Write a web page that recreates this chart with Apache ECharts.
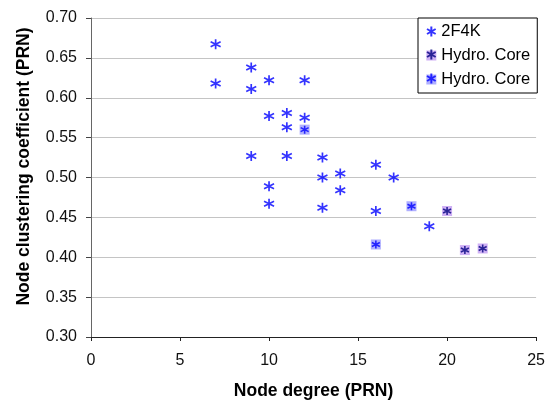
<!DOCTYPE html>
<html>
<head>
<meta charset="utf-8">
<script src="https://cdn.jsdelivr.net/npm/echarts@6/dist/echarts.min.js"></script>
<style>html,body{margin:0;padding:0;background:#fff}#c{width:548px;height:405px}</style>
</head>
<body>
<div id="c"></div>
<script>
// ---- data ----
var f2kX = [7, 7, 9, 9, 9, 10, 10, 10, 10, 11, 11, 11, 12, 12, 13, 13, 13, 14, 14, 16, 16, 17, 19];
var f2kY = [0.667, 0.618, 0.638, 0.611, 0.527, 0.622, 0.577, 0.489, 0.467, 0.581, 0.563, 0.527, 0.622, 0.575, 0.525, 0.500, 0.462, 0.505, 0.484, 0.516, 0.458, 0.500, 0.439];
var hydroPurpleX = [20, 21, 22];
var hydroPurpleY = [0.458, 0.409, 0.411];
var hydroBlueX = [12, 16, 18];
var hydroBlueY = [0.560, 0.416, 0.464];
var xTicks = [0, 5, 10, 15, 20, 25];
var yTicks = [0.30, 0.35, 0.40, 0.45, 0.50, 0.55, 0.60, 0.65, 0.70];
var seriesNames = ['2F4K', 'Hydro. Core', 'Hydro. Core\u200b'];
var xTitle = 'Node degree (PRN)';
var yTitle = 'Node clustering coefficient (PRN)';

function pairs(xs, ys) { return xs.map(function (x, i) { return [x, ys[i]]; }); }

var AST = 'path://M5,0L5,10M0.67,2.5L9.33,7.5M0.67,7.5L9.33,2.5';
var FONT = 'Liberation Sans, Arial, sans-serif';

var chart = echarts.init(document.getElementById('c'), null, { renderer: 'canvas' });
chart.setOption({
  animation: false,
  backgroundColor: '#ffffff',
  grid: { left: 91, right: 10, top: 18, bottom: 62, containLabel: false },
  xAxis: {
    type: 'value', min: xTicks[0], max: xTicks[xTicks.length - 1], interval: 5,
    name: xTitle, nameLocation: 'middle', nameGap: 45,
    nameTextStyle: { fontFamily: FONT, fontSize: 17.5, fontWeight: 'bold', color: '#000' },
    axisLine: { show: true, onZero: false, lineStyle: { color: '#222', width: 1 } },
    axisTick: { show: true, length: 4, lineStyle: { color: '#222' } },
    axisLabel: { fontFamily: FONT, fontSize: 16, color: '#111', margin: 16 },
    splitLine: { show: false }
  },
  yAxis: {
    type: 'value', min: yTicks[0], max: yTicks[yTicks.length - 1], interval: 0.05,
    name: yTitle, nameLocation: 'middle', nameGap: 58, nameRotate: 90,
    nameTextStyle: { fontFamily: FONT, fontSize: 17.5, fontWeight: 'bold', color: '#000', padding: [0, 0, 0, 22] },
    axisLine: { show: true, onZero: false, lineStyle: { color: '#666', width: 1 } },
    axisTick: { show: true, length: 5, lineStyle: { color: '#444' } },
    axisLabel: { fontFamily: FONT, fontSize: 16, color: '#111', margin: 14,
      formatter: function (v) { return v.toFixed(2); } },
    splitLine: { show: true, lineStyle: { color: '#c4c4c4', width: 1 } }
  },
  legend: [{
    orient: 'vertical', left: 418, top: 18,
    data: seriesNames,
    itemWidth: 10, itemHeight: 10, itemGap: 7,
    padding: [5, 7, 5, 8],
    borderColor: '#000', borderWidth: 1, backgroundColor: '#fff',
    textStyle: { fontFamily: FONT, fontSize: 16.5, color: '#000' },
    selectedMode: false
  }, {
    orient: 'vertical', left: 418, top: 41,
    data: ['Hydro. Core marker A', 'Hydro. Core marker B'],
    itemWidth: 10, itemHeight: 10, itemGap: 7,
    padding: [5, 7, 5, 8],
    formatter: function () { return 'Hydro. Core'; },
    textStyle: { fontFamily: FONT, fontSize: 16.5, color: 'rgba(0,0,0,0)' },
    selectedMode: false, z: 10
  }],
  series: [{
    name: seriesNames[0], type: 'scatter', data: pairs(f2kX, f2kY),
    symbol: AST, symbolSize: 10,
    itemStyle: { color: 'rgba(0,0,0,0)', borderColor: '#0000ff', borderWidth: 1.7 },
    z: 3
  }, {
    name: seriesNames[1], type: 'scatter', data: pairs(hydroPurpleX, hydroPurpleY),
    symbol: 'rect', symbolSize: 10,
    itemStyle: { color: '#c39cf2', borderWidth: 0 },
    z: 2
  }, {
    name: seriesNames[2], type: 'scatter', data: pairs(hydroBlueX, hydroBlueY),
    symbol: 'rect', symbolSize: 10,
    itemStyle: { color: '#9c9cff', borderWidth: 0 },
    z: 2
  }, {
    name: 'Hydro. Core marker A', type: 'scatter', data: pairs(hydroPurpleX, hydroPurpleY),
    symbol: AST, symbolSize: 8,
    itemStyle: { color: 'rgba(0,0,0,0)', borderColor: '#000080', borderWidth: 1.6 },
    z: 4
  }, {
    name: 'Hydro. Core marker B', type: 'scatter', data: pairs(hydroBlueX, hydroBlueY),
    symbol: AST, symbolSize: 8,
    itemStyle: { color: 'rgba(0,0,0,0)', borderColor: '#0000ff', borderWidth: 1.6 },
    z: 4
  }]
});
</script>
</body>
</html>
